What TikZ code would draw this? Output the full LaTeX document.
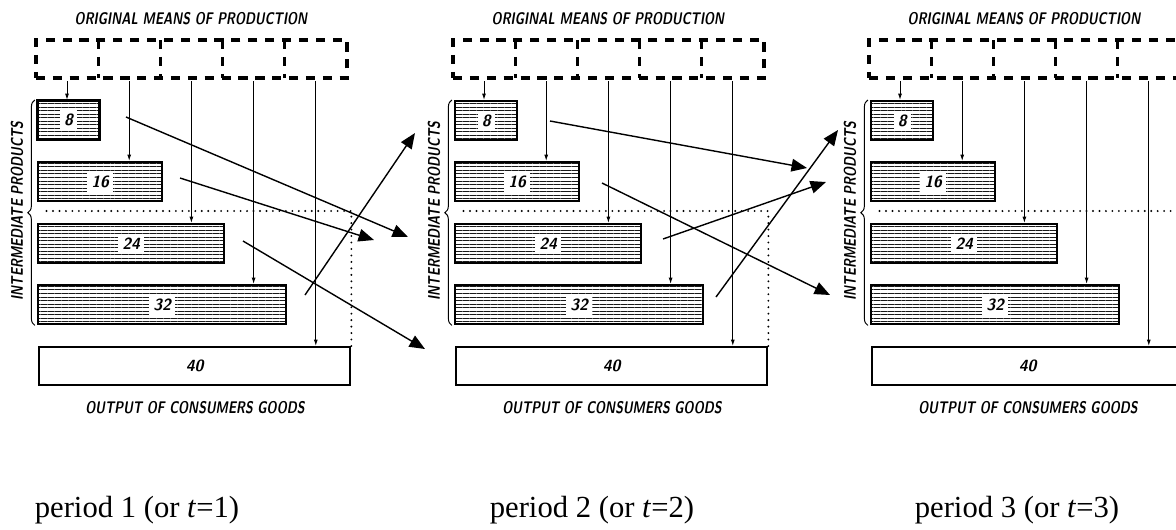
\documentclass[tikz,border=0pt]{standalone}
\usepackage{fontspec}
\newfontfamily\periodfont{Liberation Serif}
\usetikzlibrary{arrows.meta,calc,patterns.meta,decorations.pathreplacing}
\newcommand{\pxu}{0.025cm}

\begin{document}
\begin{tikzpicture}[x=\pxu,y=-\pxu,
  lettering/.style={font=\sffamily\bfseries\itshape\fontsize{12}{14}\selectfont,xscale=0.75,transform shape},
  omp/.style={draw,line width=2.2pt,dash pattern=on 6.5pt off 5.5pt,
    minimum width=311*\pxu,minimum height=38*\pxu,inner sep=0pt,outer sep=0pt},
  omp cell/.style={line width=2.2pt,dash pattern=on 6.5pt off 5.5pt},
  stock/.style={draw,line width=1.7pt,anchor=north west,minimum height=39*\pxu,inner sep=0pt,
    pattern={Lines[angle=0,distance=2.5pt,line width=0.65pt]},pattern color=black!90},
  output/.style={draw,line width=1.7pt,anchor=north west,minimum width=311*\pxu,
    minimum height=38*\pxu,inner sep=0pt,fill=white,font=\sffamily\bfseries\itshape\fontsize{11.5}{13}\selectfont},
  tag/.style={fill=white,inner sep=3pt,font=\sffamily\bfseries\itshape\fontsize{11.5}{13}\selectfont},
  feed/.style={line width=0.7pt,-{Latex[length=4.5pt,width=2.8pt]}},
  flow/.style={line width=1pt,-{Triangle[length=11pt,width=9pt]}},
  split/.style={line width=1.5pt,line cap=round,dash pattern=on 0pt off 4.6pt},
  stack/.style={decorate,decoration={brace,amplitude=5pt},line width=0.7pt},
  period/.style={font=\periodfont\fontsize{21.8}{24}\selectfont}]

\useasboundingbox (0,0) rectangle (1176,529);
\clip (0,0) rectangle (1176,529);

\foreach \p/\dx/\cx in {1/0/137,2/417/592,3/833/1017}{
  \node[lettering] at (191+\dx,19) {ORIGINAL MEANS OF PRODUCTION};
  \node[omp] (omp\p) at (191.5+\dx,59) {};
  \foreach \k in {1,...,4}
    \draw[omp cell] ($(omp\p.north west)+(62.2*\k,0)$) -- ($(omp\p.south west)+(62.2*\k,0)$);

  \node[stock,minimum width=62*\pxu,label={[tag]center:8}] (b8-\p) at (37+\dx,100) {};
  \node[stock,minimum width=124*\pxu,label={[tag]center:16}] (b16-\p) at (37+\dx,161) {};
  \node[stock,minimum width=186*\pxu,label={[tag]center:24}] (b24-\p) at (37+\dx,223) {};
  \node[stock,minimum width=248*\pxu,label={[tag]center:32}] (b32-\p) at (37+\dx,284) {};
  \node[output] (b40-\p) at (38+\dx,346) {40};

  % one column of the means per stage
  \foreach \t [count=\k from 0] in {8,16,24,32,40}{
    \path ($(omp\p.south west)+(31+62.2*\k,3)$) coordinate (f\t-\p);
    \draw[feed] (f\t-\p) -- (f\t-\p |- b\t-\p.north);
  }

  \draw[split] (b40-\p.north east) -- ++(0,-135) -- ++(-311,0);
  \draw[stack] ([xshift=-1.5pt]b32-\p.south west) -- ([xshift=-1.5pt]b8-\p.north west);
  \node[rotate=90,lettering] at (17+\dx,211) {INTERMEDIATE PRODUCTS};
  \node[lettering] at (195+\dx,408) {OUTPUT OF CONSUMERS GOODS};

  \node[period] at (\cx,510) {period \p\ (or \textit{t}=\p)};
}

% goods carried on to the next period
\foreach \n/\sx/\sy/\ex/\ey in {8-1/126/117/408/237,16-1/180/178/374/240,
    24-1/243/241/425/349,32-1/305/295/415/133,
    8-2/550/121/807/168,16-2/602/183/830/295,
    24-2/663/239/826/182,32-2/716/297/838/130}{
  \coordinate (from\n) at (\sx,\sy);
  \coordinate (to\n) at (\ex,\ey);
  \draw[flow] (from\n) -- (to\n);
}

\end{tikzpicture}
\end{document}
